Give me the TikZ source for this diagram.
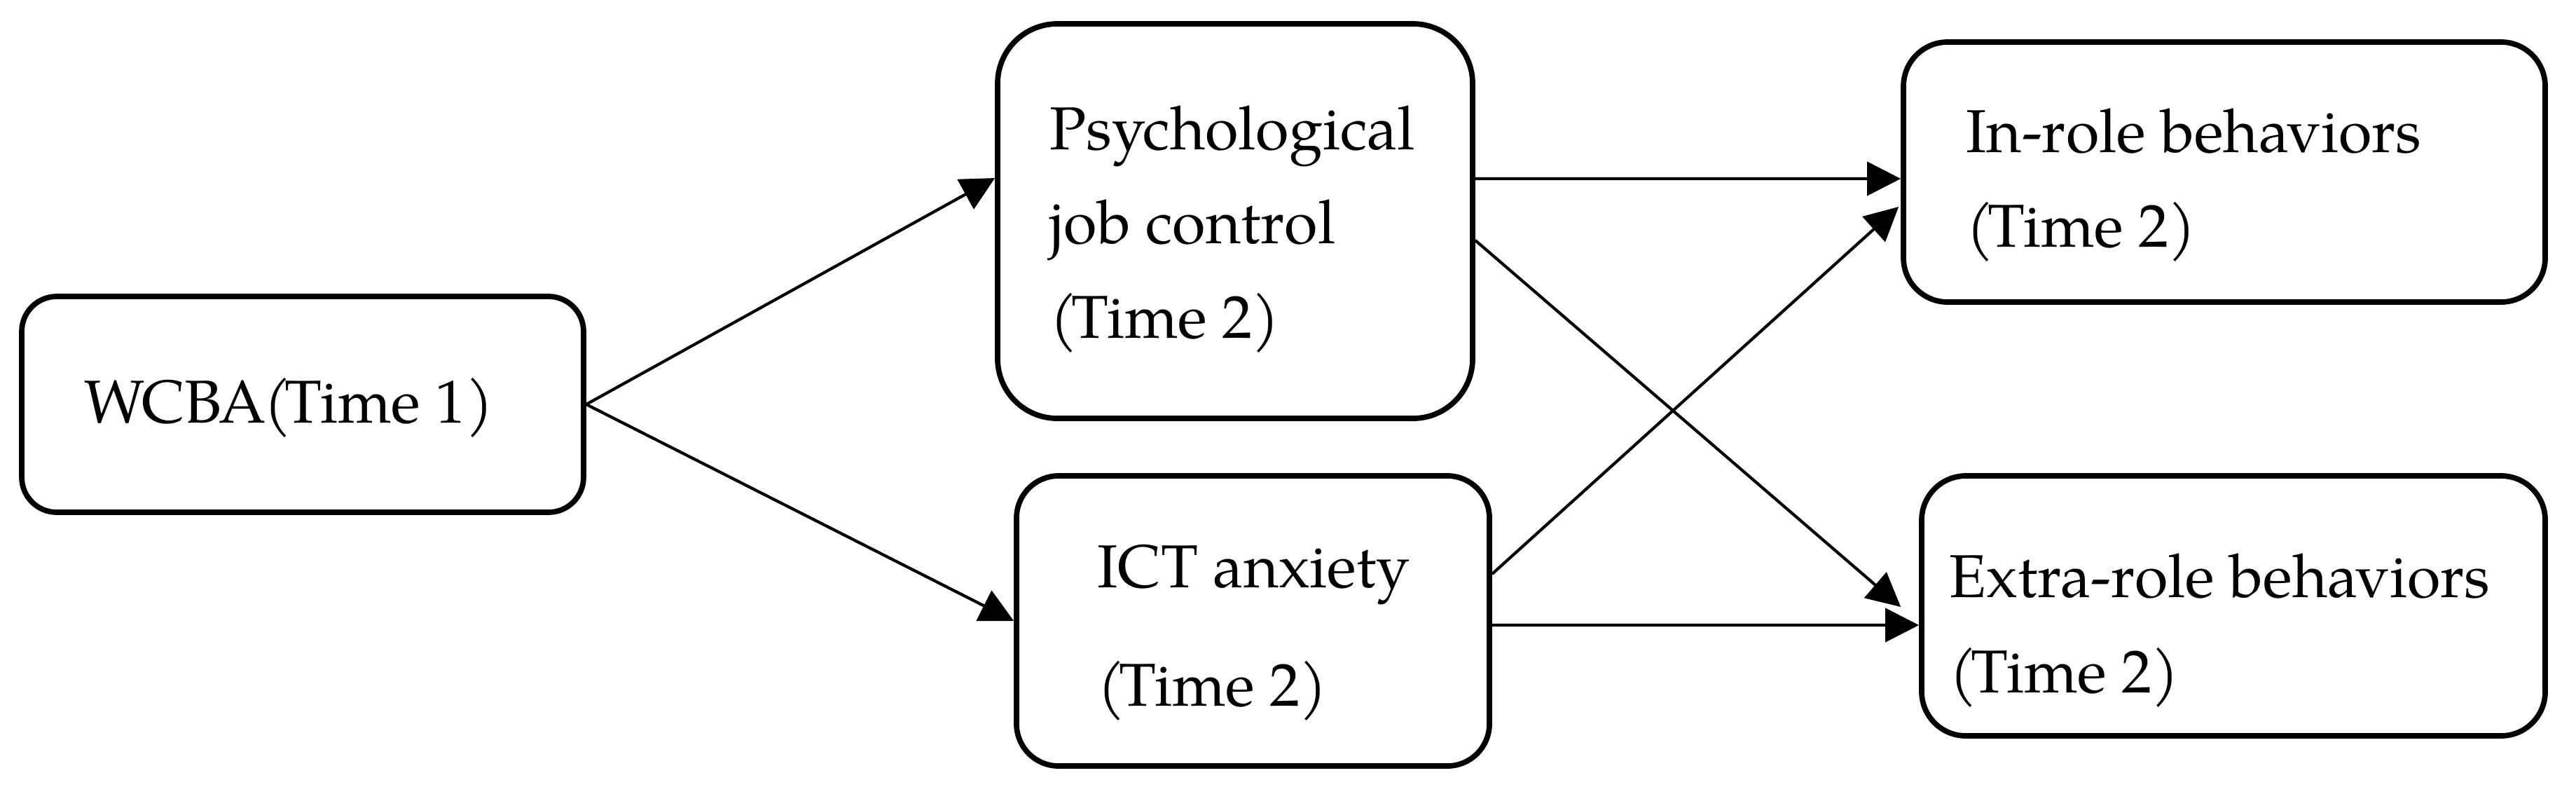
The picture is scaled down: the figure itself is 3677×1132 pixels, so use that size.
\documentclass[tikz,border=0pt]{standalone}
\usepackage{fontspec}
\setmainfont{TeX Gyre Pagella}
\usetikzlibrary{arrows.meta,calc}
\newcommand{\lpar}{(\kern-0.1em}
\begin{document}
\begin{tikzpicture}[x=0.1mm,y=-0.1mm,
  box/.style={draw,line width=2.2pt,rectangle,inner sep=0pt},
  lbl/.style={anchor=base west,inner sep=0pt,font=\fontsize{24.6}{24.6}\selectfont},
  arr/.style={line width=1.2pt,-{Triangle[length=4.8mm,width=4.8mm]}}]
\fill[white] (0,0) rectangle (3677,1132);
\useasboundingbox (0,0) rectangle (3677,1132);

% boxes
\node[box,rounded corners=5mm,minimum width=80.2mm,minimum height=30.8mm] (wcba) at (432,577) {};
\node[box,rounded corners=8.5mm,minimum width=67.8mm,minimum height=56.3mm] (psych) at (1763,315.5) {};
\node[box,rounded corners=6mm,minimum width=67.5mm,minimum height=41.4mm] (ict) at (1788.5,886) {};
\node[box,rounded corners=6.3mm,minimum width=91.6mm,minimum height=37.1mm] (inrole) at (3175,245.5) {};
\node[box,rounded corners=6.3mm,minimum width=89mm,minimum height=37.1mm] (extra) at (3188,864.5) {};

% labels
\node[lbl] (wcbaT) at (120,603) {WCBA\kern-0.04em\lpar Time 1)};
\node[lbl] (psychT1) at (1498,213) {Psychological};
\node[lbl] (psychT2) at (1498,347) {job control};
\node[lbl] (psychT3) at (1498,482) {\lpar Time 2)};
\node[lbl] (ictT1) at (1566,838) {ICT anxiety};
\node[lbl] (ictT2) at (1566,1007) {\lpar Time 2)};
\node[lbl] (inroleT1) at (2806,217) {In-role behaviors};
\node[lbl] (inroleT2) at (2806,352) {\lpar Time 2)};
\node[lbl] (extraT1) at (2782,852) {Extra-role behaviors};
\node[lbl] (extraT2) at (2782,988) {\lpar Time 2)};

% connectors
\draw[arr] (wcba.east) -- ($(psych.west)+(0,-61.5)$);
\draw[arr] (wcba.east) -- (ict.west);
\draw[arr] ($(psych.east)+(0,-60.5)$) -- ($(inrole.west)+(0,9.5)$);
\draw[arr] ($(psych.east)+(0,27.5)$) -- ($(extra.west)+(-26,1.5)$);
\draw[arr] ($(ict.east)+(0,-67)$) -- ($(inrole.west)+(-3,49.5)$);
\draw[arr] ($(ict.east)+(0,6)$) -- ($(extra.west)+(0,27.5)$);
\end{tikzpicture}
\end{document}
